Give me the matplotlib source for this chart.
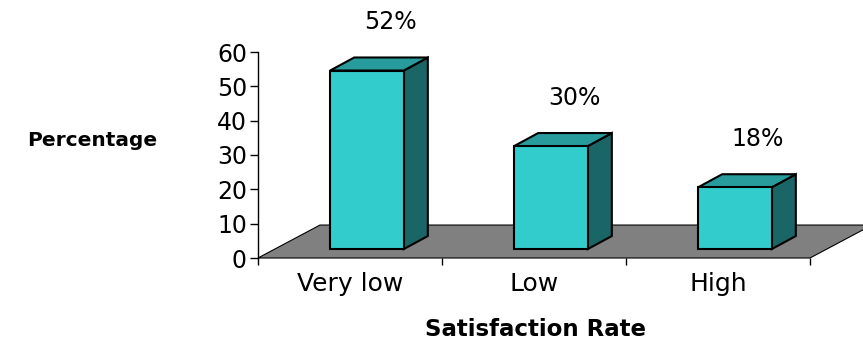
import numpy as np
import matplotlib
matplotlib.use('agg')
import matplotlib.pyplot as plt
from matplotlib.patches import Polygon

# data
categories = ['Very low', 'Low', 'High']
values = [52, 30, 18]
labels = ['52%', '30%', '18%']

plt.rcParams['font.family'] = ['DejaVu Sans']

W, H = 863, 341
fig = plt.figure(figsize=(W / 100, H / 100), dpi=100)
ax = fig.add_axes([258 / W, (H - 258) / H, (810 - 258) / W, (258 - 52) / H])
ax.set_xlim(0, 3)
ax.set_ylim(0, 60)

# pseudo 3d depth (in data units)
floor_dx, floor_dy = 0.337, 9.6
front_dx, front_dy = 0.092, 2.6
back_dx, back_dy = 0.223, 6.4
bw = 0.40

# floor
floor = Polygon([(0, 0), (3, 0), (3 + floor_dx, floor_dy), (floor_dx, floor_dy)],
                closed=True, facecolor='#808080', edgecolor='black', lw=0.8,
                clip_on=False, zorder=1)
ax.add_patch(floor)

for i, v in enumerate(values):
    x0 = i + 0.5 - bw / 2 + front_dx
    x1 = x0 + bw
    y0 = front_dy
    y1 = front_dy + v
    ddx = back_dx - front_dx
    ddy = back_dy - front_dy
    side = Polygon([(x1, y0), (x1 + ddx, y0 + ddy), (x1 + ddx, y1 + ddy), (x1, y1)],
                   facecolor='#1A6666', edgecolor='black', lw=1.5, zorder=3, clip_on=False)
    top = Polygon([(x0, y1), (x1, y1), (x1 + ddx, y1 + ddy), (x0 + ddx, y1 + ddy)],
                  facecolor='#289C9C', edgecolor='black', lw=1.5, zorder=3, clip_on=False)
    front = Polygon([(x0, y0), (x1, y0), (x1, y1), (x0, y1)],
                    facecolor='#33CCCC', edgecolor='black', lw=1.5, zorder=4, clip_on=False)
    ax.add_patch(side)
    ax.add_patch(top)
    ax.add_patch(front)
    ax.text(i + 0.5 + back_dx - 0.005, y1 + ddy + 10.3, labels[i], ha='center', va='center',
            fontsize=17, clip_on=False)

ax.spines['top'].set_visible(False)
ax.spines['right'].set_visible(False)
ax.spines['bottom'].set_visible(False)
ax.spines['left'].set_linewidth(1.0)
ax.spines['left'].set_zorder(2)

ax.set_yticks(range(0, 61, 10))
ax.tick_params(axis='y', labelsize=17, length=6, width=1, pad=2, direction='out')
ax.set_xticks([0.5, 1.5, 2.5])
ax.set_xticklabels(categories)
ax.set_xticks([0, 1, 2, 3], minor=True)
ax.tick_params(axis='x', which='major', length=0, labelsize=18, pad=10)
ax.tick_params(axis='x', which='minor', length=5, width=1, direction='out')

fig.text(535 / W, 1 - 330 / H, 'Satisfaction Rate', ha='center', va='center',
         fontsize=16.5, fontweight='bold')
fig.text(92 / W, 1 - 140 / H, 'Percentage', ha='center', va='center',
         fontsize=14.5, fontweight='bold')

fig.savefig('out.png', dpi=100)
